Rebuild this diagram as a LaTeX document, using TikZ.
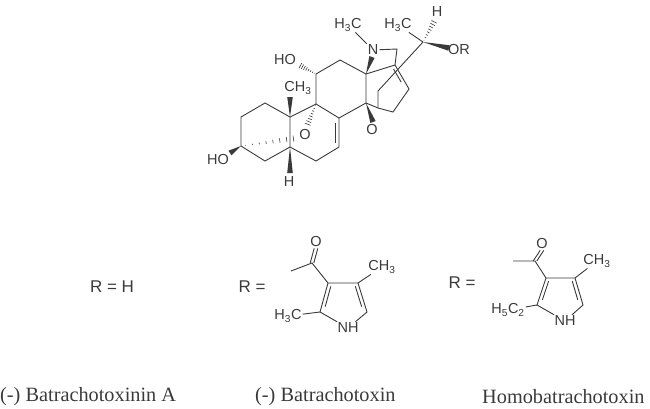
\documentclass[tikz,border=0pt]{standalone}
\usepackage{fontspec}
\setmainfont{Liberation Sans}
\newfontfamily\captionfont{Liberation Serif}
\usetikzlibrary{calc}
\definecolor{inkgray}{HTML}{3A3A3A}
\tikzset{
	atom/.style={inner sep=1pt, text=inkgray, font=\fontsize{14.5}{16}\selectfont},
	rlabel/.style={inner sep=1pt, text=inkgray, font=\fontsize{17}{19}\selectfont},
	bond/.style={draw=inkgray, line width=0.9pt},
	title/.style={inner sep=0pt, text=inkgray, font=\captionfont\fontsize{20.3}{22}\selectfont}
}
\newcommand{\wedgebond}[2]{\fill[inkgray] (#1) -- ($(#2)!2.8pt!90:(#1)$) -- ($(#2)!2.8pt!-90:(#1)$) -- cycle;}
\newcommand{\hashbond}[2]{\foreach \t in {0.08,0.2,...,1.0} {
		\draw[inkgray, line width=0.6pt] ($(#1)!\t!(#2)!\t*3.2pt!90:(#2)$) -- ($(#1)!\t!(#2)!\t*3.2pt!-90:(#2)$);}}
\begin{document}
\begin{tikzpicture}[x=1pt, y=-1pt]
	\useasboundingbox (0,0) rectangle (650,408);
	% ring atoms
	\begin{scope}
		\coordinate (a1) at (290,117);
		\coordinate (a2) at (265,103);
		\coordinate (a3) at (241,117);
		\coordinate (a4) at (241,146);
		\coordinate (a5) at (265,161);
		\coordinate (a6) at (290,147);
		\coordinate (b1) at (316,161);
		\coordinate (b2) at (339,147);
		\coordinate (b3) at (339,118);
		\coordinate (b4) at (316,104);
		\coordinate (c1) at (316,74);
		\coordinate (c2) at (340,60);
		\coordinate (c3) at (366,74);
		\coordinate (c4) at (366,103);
		\coordinate (d1) at (378,108);
		\coordinate (d2) at (393,112);
		\coordinate (d3) at (409,89);
		\coordinate (d4) at (395,65);
		\coordinate (d5) at (378,91);
		\coordinate (d6) at (397,49);
		\coordinate (e1) at (423,42);
		% ends of the stereo bonds
		\coordinate (w1) at (290,97);
		\coordinate (w2) at (230,153);
		\coordinate (w3) at (290,173);
		\coordinate (w4) at (372,57);
		\coordinate (w5) at (373,122);
		\coordinate (w6) at (449,48);
		\coordinate (w7) at (299,65);
		\coordinate (w8) at (435,20);
		\coordinate (w9) at (298,138);
		\coordinate (w10) at (307,126);
	\end{scope}
	% labels
	\begin{scope}[every node/.style={atom}]
		\node (ho1) at (285,60) {HO};
		\node (ho2) at (218,160) {HO};
		\node (me1) at (298,88) {CH\textsubscript{3}};
		\node (h1) at (289,182) {H};
		\node (o1) at (305,135) {O};
		\node (o2) at (372,130) {O};
		\node (n1) at (373,50) {N};
		\node (me2) at (348,25) {H\textsubscript{3}C};
		\node (me3) at (398,25) {H\textsubscript{3}C};
		\node (h2) at (437,12) {H};
		\node (or) at (459,50) {OR};
	\end{scope}
	\begin{scope}[every node/.style={rlabel}]
		\node (r1) at (112,287) {R = H};
		\node (r2) at (252,287) {R =};
		\node (r3) at (462,283) {R =};
	\end{scope}
	% fused rings
	\draw[bond] (a1) -- (a2) -- (a3) -- (a4) -- (a5) -- (a6) -- (b1) -- (b2) -- (b3) -- (b4) -- (a1) -- (a6);
	\draw[bond] (335,123) -- (335,143);
	\draw[bond] (b4) -- (c1) -- (c2) -- (c3) -- (c4) -- (b3);
	\draw[bond] (c3) -- (d4) -- (d3) -- (d2) -- (d1) -- (c4);
	\draw[bond] (d1) -- (d5) -- (e1);
	\draw[bond] (d4) -- (d6) -- (n1);
	\draw[bond] ($(d4)!0.25!(d3)+(-5pt,2pt)$) -- ($(d4)!0.8!(d3)+(-5pt,2pt)$);
	\draw[bond] (n1) -- (me2);
	\draw[bond] (e1) -- (me3);
	% stereo bonds
	\wedgebond{a1}{w1}
	\wedgebond{a6}{w3}
	\wedgebond{a4}{w2}
	\wedgebond{c3}{w4}
	\wedgebond{c4}{w5}
	\wedgebond{e1}{w6}
	\hashbond{c1}{w7}
	\hashbond{e1}{w8}
	\hashbond{a4}{w9}
	\hashbond{b4}{w10}
	% first acyl pyrrole
	\begin{scope}[every node/.style={atom}]
		\node (p1o) at (316,242) {O};
		\node (p1me) at (382,267) {CH\textsubscript{3}};
		\node (p1mf) at (288,316) {H\textsubscript{3}C};
		\node (p1n) at (348,328) {NH};
	\end{scope}
	\coordinate (p1a) at (312,263);
	\coordinate (p1b) at (291,271);
	\coordinate (p1c) at (328,283);
	\coordinate (p1d) at (358,283);
	\coordinate (p1e) at (320,312);
	\coordinate (p1f) at (367,312);
	\draw[bond] (p1b) -- (p1a) -- (p1c) -- (p1d) -- (p1f) -- (p1n) -- (p1e) -- (p1c);
	\draw[bond] (p1d) -- (p1me);
	\draw[bond] (p1e) -- (p1mf);
	\draw[bond] ([xshift=-1.8pt]p1a) -- ([xshift=-1.8pt]p1o.south);
	\draw[bond] ([xshift=1.8pt]p1a) -- ([xshift=1.8pt]p1o.south);
	\draw[bond] ($(p1c)!0.15!(p1e)+(4pt,1pt)$) -- ($(p1c)!0.85!(p1e)+(4pt,1pt)$);
	\draw[bond] ($(p1d)!0.15!(p1f)+(-4pt,1pt)$) -- ($(p1d)!0.85!(p1f)+(-4pt,1pt)$);
	% second acyl pyrrole
	\begin{scope}[every node/.style={atom}]
		\node (p2o) at (542,244) {O};
		\node (p2me) at (597,261) {CH\textsubscript{3}};
		\node (p2mf) at (508,310) {H\textsubscript{5}C\textsubscript{2}};
		\node (p2n) at (565,321) {NH};
	\end{scope}
	\coordinate (p2a) at (535,261);
	\coordinate (p2b) at (513,261);
	\coordinate (p2c) at (546,278);
	\coordinate (p2d) at (575,278);
	\coordinate (p2e) at (537,305);
	\coordinate (p2f) at (583,305);
	\draw[bond] (p2b) -- (p2a) -- (p2c) -- (p2d) -- (p2f) -- (p2n) -- (p2e) -- (p2c);
	\draw[bond] (p2d) -- (p2me);
	\draw[bond] (p2e) -- (p2mf);
	\draw[bond] ([xshift=-1.8pt]p2a) -- ([xshift=-1.8pt]p2o.south);
	\draw[bond] ([xshift=1.8pt]p2a) -- ([xshift=1.8pt]p2o.south);
	\draw[bond] ($(p2c)!0.15!(p2e)+(4pt,1pt)$) -- ($(p2c)!0.85!(p2e)+(4pt,1pt)$);
	\draw[bond] ($(p2d)!0.15!(p2f)+(-4pt,1pt)$) -- ($(p2d)!0.85!(p2f)+(-4pt,1pt)$);
	% captions
	\node[title, anchor=west] (t1) at (0,397) {(-) Batrachotoxinin A};
	\node[title, anchor=west] (t2) at (255,397) {(-) Batrachotoxin};
	\node[title, anchor=west] (t3) at (482,397) {Homobatrachotoxin};
\end{tikzpicture}
\end{document}
